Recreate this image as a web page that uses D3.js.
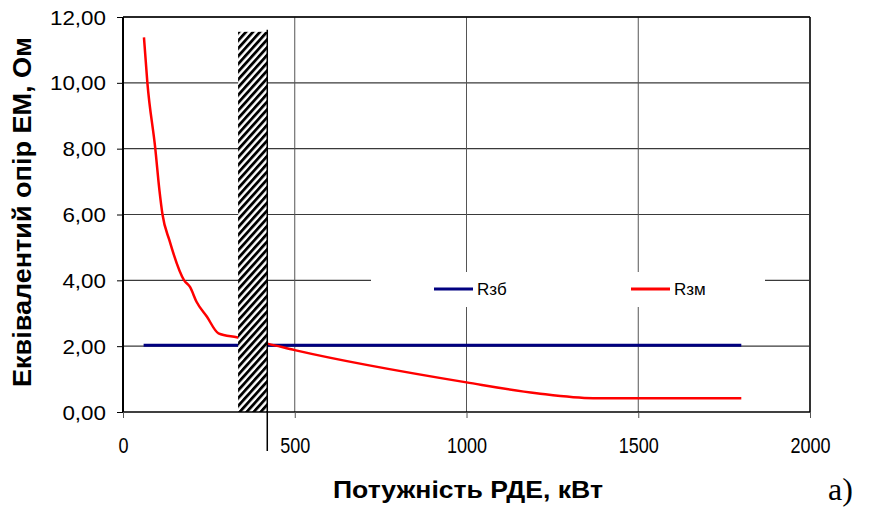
<!DOCTYPE html>
<html>
<head>
<meta charset="utf-8">
<script src="https://cdn.jsdelivr.net/npm/d3@7"></script>
<style>
	body { margin: 0; background: #fff; }
	svg { display: block; }
</style>
</head>
<body>
<svg id="chart" width="886" height="508"></svg>
<script>
"use strict"

//
// data
//
var xTicks = [0, 500, 1000, 1500, 2000];
var yTicks = [0, 2, 4, 6, 8, 10, 12];

var powerBase = [60, 1800];
var rBase     = [2.03, 2.03];

var powerM = [61, 71, 94, 106, 115, 135, 178, 195, 214, 244, 278, 331, 423, 500, 1000, 1204, 1369, 1800];
var rM     = [11.38, 10.0, 8.0, 6.74, 6.0, 5.22, 4.0, 3.8, 3.35, 2.9, 2.39, 2.27, 2.07, 1.88, 0.90, 0.57, 0.42, 0.42];

// hatched zone [from, to] and its height, marker line position
var zonePower = [335, 422];
var zoneTop   = 11.55;
var markPower = 420;

var seriesNames = ["Rзб", "Rзм"];
var seriesColors = ["#000080", "#ff0000"];

//
// layout
//
var m_left = 123, m_top = 17, m_right = 810, m_bottom = 412;
var font = "'Liberation Sans', Arial, sans-serif";

var svg = d3.select("#chart");

var x = d3.scaleLinear().domain([0, 2000]).range([m_left, m_right]);
var y = d3.scaleLinear().domain([0, 12]).range([m_bottom, m_top]);

var defs = svg.append("defs");
defs.append("pattern")
	.attr("id", "hatch")
	.attr("patternUnits", "userSpaceOnUse")
	.attr("width", 5.2)
	.attr("height", 10)
	.attr("patternTransform", "rotate(42)")
	.append("rect")
		.attr("x", 0).attr("y", 0)
		.attr("width", 2.8).attr("height", 10)
		.attr("fill", "#000");

//
// grid
//
var gGrid = svg.append("g");
gGrid.selectAll("line.h")
	.data(yTicks.slice(1))
	.enter().append("line")
		.attr("x1", m_left).attr("x2", m_right)
		.attr("y1", function(d) { return y(d); })
		.attr("y2", function(d) { return y(d); })
		.attr("stroke", "#3a3a3a")
		.attr("stroke-width", 1.2);
gGrid.selectAll("line.v")
	.data(xTicks.slice(1, -1))
	.enter().append("line")
		.attr("x1", function(d) { return x(d); })
		.attr("x2", function(d) { return x(d); })
		.attr("y1", m_top).attr("y2", m_bottom)
		.attr("stroke", "#555")
		.attr("stroke-width", 1);
// right border
svg.append("line")
	.attr("x1", m_right).attr("x2", m_right)
	.attr("y1", m_top).attr("y2", m_bottom)
	.attr("stroke", "#333").attr("stroke-width", 2);

//
// legend box (white, covers grid)
//
var gLeg = svg.append("g");
gLeg.append("rect")
	.attr("x", 371).attr("y", 272)
	.attr("width", 394).attr("height", 35)
	.attr("fill", "#fff");
var legX = [434, 631];
seriesNames.forEach(function(name, i) {
	gLeg.append("line")
		.attr("x1", legX[i]).attr("x2", legX[i] + 39)
		.attr("y1", 289).attr("y2", 289)
		.attr("stroke", seriesColors[i])
		.attr("stroke-width", 3);
	gLeg.append("text")
		.attr("x", legX[i] + 43).attr("y", 295)
		.attr("font-family", font)
		.attr("font-size", 17)
		.attr("fill", "#000")
		.text(name);
});

//
// series
//
var line = d3.line()
	.x(function(d) { return x(d[0]); })
	.y(function(d) { return y(d[1]); });

svg.append("path")
	.datum(d3.zip(powerBase, rBase))
	.attr("d", line)
	.attr("fill", "none")
	.attr("stroke", seriesColors[0])
	.attr("stroke-width", 3);

svg.append("path")
	.datum(d3.zip(powerM, rM))
	.attr("d", line.curve(d3.curveMonotoneX))
	.attr("fill", "none")
	.attr("stroke", seriesColors[1])
	.attr("stroke-width", 2.5)
	.attr("stroke-linejoin", "round");

//
// hatched zone and marker
//
svg.append("rect")
	.attr("x", x(zonePower[0]))
	.attr("y", y(zoneTop))
	.attr("width", x(zonePower[1]) - x(zonePower[0]))
	.attr("height", y(0) - y(zoneTop))
	.attr("fill", "#fff");
svg.append("rect")
	.attr("x", x(zonePower[0]))
	.attr("y", y(zoneTop))
	.attr("width", x(zonePower[1]) - x(zonePower[0]))
	.attr("height", y(0) - y(zoneTop))
	.attr("fill", "url(#hatch)");
svg.append("line")
	.attr("x1", x(markPower)).attr("x2", x(markPower))
	.attr("y1", y(zoneTop) - 2).attr("y2", 451)
	.attr("stroke", "#000").attr("stroke-width", 1.5);

//
// axes
//
var xAxis = d3.axisBottom(x).tickValues(xTicks).tickSize(6).tickFormat(d3.format("d"));
var gx = svg.append("g")
	.attr("transform", "translate(0," + m_bottom + ")")
	.call(xAxis);
gx.select(".domain").attr("stroke", "#000").attr("stroke-width", 1.5).attr("d", "M" + m_left + ",0H" + m_right);
gx.selectAll(".tick line").attr("stroke", "#555");
gx.selectAll(".tick text")
	.attr("font-family", font)
	.attr("font-size", 22)
	.attr("fill", "#000")
	.attr("x", 0)
	.attr("y", 0)
	.attr("dy", 0)
	.attr("transform", "translate(0,41) scale(0.82,1)");

var yFmt = function(d) { return d3.format(".2f")(d).replace(".", ","); };
var yAxis = d3.axisLeft(y).tickValues(yTicks).tickSize(6).tickFormat(yFmt);
var gy = svg.append("g")
	.attr("transform", "translate(" + m_left + ",0)")
	.call(yAxis);
gy.select(".domain").attr("stroke", "#000").attr("stroke-width", 2).attr("d", "M0," + m_top + "V" + m_bottom);
gy.selectAll(".tick line").attr("stroke", "#000");
gy.selectAll(".tick text")
	.attr("font-family", font)
	.attr("font-size", 20)
	.attr("fill", "#000")
	.attr("x", 0)
	.attr("dy", "0.35em")
	.attr("transform", "translate(-17,0) scale(1.12,1)");

// top border
svg.append("line")
	.attr("x1", m_left).attr("x2", m_right)
	.attr("y1", m_top).attr("y2", m_top)
	.attr("stroke", "#000").attr("stroke-width", 1.5);

//
// titles
//
svg.append("text")
	.attr("transform", "translate(31,212) rotate(-90)")
	.attr("text-anchor", "middle")
	.attr("font-family", font)
	.attr("font-weight", "bold")
	.attr("font-size", 25)
	.attr("fill", "#000")
	.attr("textLength", 350)
	.attr("lengthAdjust", "spacingAndGlyphs")
	.text("Еквівалентий опір ЕМ, Ом");

svg.append("text")
	.attr("x", 468).attr("y", 498)
	.attr("text-anchor", "middle")
	.attr("font-family", font)
	.attr("font-weight", "bold")
	.attr("font-size", 24)
	.attr("fill", "#000")
	.attr("textLength", 270)
	.attr("lengthAdjust", "spacingAndGlyphs")
	.text("Потужність РДЕ, кВт");

svg.append("text")
	.attr("x", 828).attr("y", 500)
	.attr("font-family", "'Liberation Serif', 'Times New Roman', serif")
	.attr("font-size", 32)
	.attr("fill", "#000")
	.text("а)");
</script>
</body>
</html>
